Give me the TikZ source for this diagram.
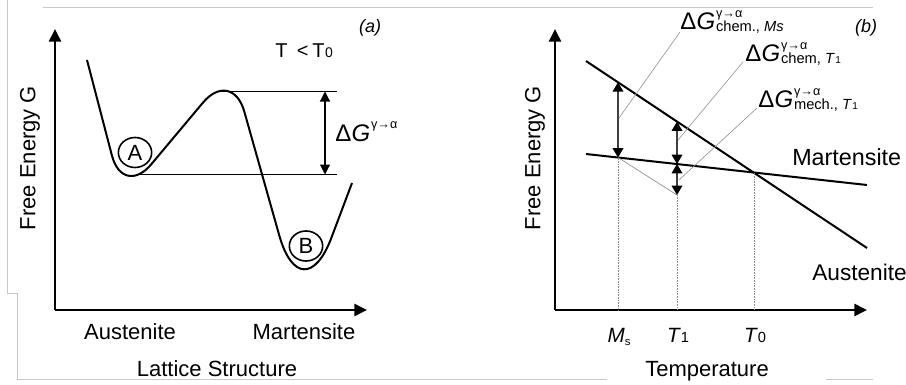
\documentclass[tikz,border=0pt]{standalone}
\usepackage{fontspec}
\setmainfont{Liberation Sans}
\usetikzlibrary{arrows.meta,shapes.geometric,calc}
\newcommand\dGsym{{\fontsize{18}{18}\selectfont Δ\kern0.3pt\textit{G}}}
\newcommand\dGsup{\raisebox{9.6pt}{\fontsize{9.5}{10}\selectfont γ→α}}
\newcommand\dGlab[1]{\dGsym\makebox[0pt][l]{\kern0.5pt\dGsup}\raisebox{-1pt}{\kern0.5pt\fontsize{11}{11}\selectfont #1}}
\begin{document}
\begin{tikzpicture}[x=0.75pt,y=-0.75pt,
  axis/.style={line width=1.9pt,-{Triangle[length=9.5pt,width=9pt]}},
  curve/.style={line width=1.5pt,line join=round},
  thinline/.style={line width=0.9pt},
  dbl/.style={line width=1pt,draw=black!75,{Triangle[length=7pt,width=8pt,color=black]}-{Triangle[length=7pt,width=8pt,color=black]}},
  lead/.style={line width=0.5pt,draw=black!40},
  dots/.style={line width=0.6pt,draw=black!45,dash pattern=on 0.6pt off 0.6pt},
  frame/.style={line width=0.5pt,draw=black!22},
  lbl/.style={font=\fontsize{16.5}{18}\selectfont,inner sep=0pt},
  tick/.style={font=\fontsize{15.5}{17}\selectfont,inner sep=0pt,anchor=base},
  circ/.style={ellipse,draw,line width=1.2pt,minimum width=25pt,minimum height=22.5pt,inner sep=0pt,font=\fontsize{16.5}{16}\selectfont}]
\useasboundingbox (0,0) rectangle (906,385);
\fill[white] (0,0) rectangle (906,385);
% scan frame artifacts
\draw[frame] (43,7) -- (873,7);
\draw[frame] (7,0) -- (7,293) -- (17,293) -- (17,379) -- (607,379);
\draw[frame] (826,379) -- (873,379);

% ================= panel (a) =================
\coordinate (aO) at (55,310);
\draw[axis] (aO) -- (55,29);
\draw[axis] (aO) -- (367,310);
\node[lbl,rotate=90] (aYl) at (30,158) {Free Energy G};
\node[lbl,anchor=base] (aAus) at (130,339) {Austenite};
\node[lbl,anchor=base] (aMar) at (304,339) {Martensite};
\node[lbl,anchor=base] (aXl) at (217,376) {Lattice Structure};
\node[inner sep=0pt,font=\fontsize{13.5}{14}\selectfont\itshape] (aTag) at (370,28) {(a)};
\node[inner sep=0pt,anchor=base west,font=\fontsize{15}{15}\selectfont] (aT) at (275,58) {T\hspace{7pt}<\hspace{3pt}T\kern0.3pt{\fontsize{10.5}{10}\selectfont 0}};

\coordinate (c0) at (87,60);
\coordinate (c1) at (123,198);
\coordinate (c2) at (232,68);
\coordinate (c3) at (302,316);
\coordinate (c4) at (352,183);
\coordinate (ca) at ($(c1)!0.5!(c2)$);
\coordinate (cm) at ($(c2)!0.5!(c3)$);
\draw[curve,rounded corners=33pt] (c0) -- (c1) -- (ca);
\draw[curve,rounded corners=34pt] (ca) -- (c2) -- (cm);
\draw[curve,rounded corners=63pt] (cm) -- (c3) -- (c4);
\node[circ] (A) at (135,152.5) {A};
\node[circ] (B) at (306,246) {B};

\coordinate (pkL) at (218,91.5);
\coordinate (pkR) at (337,91.5);
\coordinate (vaL) at (140,174.5);
\coordinate (vaR) at (337,174.5);
\draw[thinline] (pkL) -- (pkR);
\draw[thinline] (vaL) -- (vaR);
\draw[line width=0.9pt,{Triangle[length=7.5pt,width=7.5pt]}-{Triangle[length=7.5pt,width=7.5pt]}] (325,91.5) -- (325,174.5);
\node[inner sep=0pt,anchor=base west] (aDG) at (335,141) {\dGsym\kern0.5pt\dGsup};

% ================= panel (b) =================
\coordinate (bO) at (555,310);
\draw[axis] (bO) -- (555,29);
\draw[axis] (bO) -- (867,310);
\node[lbl,rotate=90] (bYl) at (535,158) {Free Energy G};
\node[lbl,anchor=base] (bXl) at (707,376) {Temperature};
\node[inner sep=0pt,font=\fontsize{13.5}{14}\selectfont\itshape] (bTag) at (866,28) {(b)};

\coordinate (A0) at (586,61);
\coordinate (A1) at (867,248);
\coordinate (M0) at (586,154);
\coordinate (M1) at (867,185);
\draw[curve] (A0) -- (A1);
\draw[curve] (M0) -- (M1);
\node[lbl,anchor=base west,font=\fontsize{17.5}{18}\selectfont] (bMar) at (792,165) {Martensite};
\node[lbl,anchor=base west,font=\fontsize{17}{18}\selectfont] (bAus) at (812,280) {Austenite};

\coordinate (msA) at (618,82.3);
\coordinate (msM) at (618,157.5);
\coordinate (t1A) at (677,121.6);
\coordinate (t1M) at (677,164);
\coordinate (t1L) at (677,195);
\coordinate (t0X) at (754,172.6);
\coordinate (msB) at (618,310);
\coordinate (t1B) at (677,310);
\coordinate (t0B) at (754,310);
\draw[dots] (msM) -- (msB);
\draw[dots] (t1L) -- (t1B);
\draw[dots] (t0X) -- (t0B);
\draw[lead,draw=black!45] (msM) -- (t1L);
\draw[dbl] (msA) -- (msM);
\draw[dbl] (t1A) -- (t1M);
\draw[dbl] (t1M) -- (t1L);

\node[tick] (lMs) at (619,342) {\textit{M}\raisebox{-2.5pt}{\fontsize{8.5}{9}\selectfont s}};
\node[tick] (lT1) at (678,342) {\textit{T}{\fontsize{11}{11}\selectfont 1}};
\node[tick] (lT0) at (755,342) {\textit{T}{\fontsize{11}{11}\selectfont 0}};

\node[inner sep=0pt,anchor=base west] (L1) at (680,30) {\dGlab{chem., \textit{Ms}}};
\node[inner sep=0pt,anchor=base west] (L2) at (745,62) {\dGlab{chem, \textit{T}\kern0.3pt{\fontsize{7.5}{8}\selectfont 1}}};
\node[inner sep=0pt,anchor=base west] (L3) at (758,108) {\dGlab{mech., \textit{T}\kern0.3pt{\fontsize{7.5}{8}\selectfont 1}}};
\coordinate (k1) at (619,118);
\coordinate (k2) at (678,140);
\coordinate (k3) at (679,180);
\draw[lead] (k1) -- ($(L1.base west)+(0,2)$);
\draw[lead] (k2) -- ($(L2.base west)+(-2,0)$);
\draw[lead] (k3) -- ($(L3.base west)+(-1,0)$);
\end{tikzpicture}
\end{document}
